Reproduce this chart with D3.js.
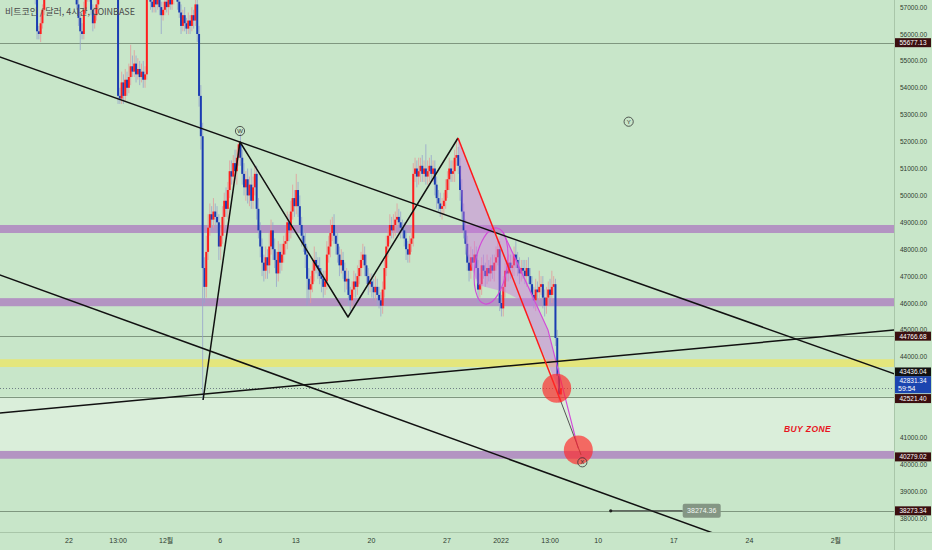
<!DOCTYPE html>
<html><head><meta charset="utf-8">
<script src="https://cdn.jsdelivr.net/npm/d3@7"></script>
<style>
html,body{margin:0;padding:0;background:#c8e6c9;}
svg{display:block;}
</style></head><body>
<svg id="c" width="932" height="550"></svg>
<script>
// ---------------- DATA ----------------
const title = "비트코인 / 달러, 4시간, COINBASE";
const firstCandle = "2021-11-15 13:00";   // 4h candles (KST)
const firstOpen = 65000;
const closes = [
// Nov 15
64800,64200,63900,
// Nov 16
61000,60400,59900,60600,60300,60000,
// Nov 17
60100,59800,60300,59900,60500,60200,
// Nov 18
60600,60100,59700,58600,57900,57300,
// Nov 19
56100,56000,56400,56900,57700,58200,
// Nov 20
58500,58900,59200,59600,59400,59700,
// Nov 21
59800,59400,59100,58900,58600,58400,
// Nov 22
58100,57900,57600,57500,57100,56600,
// Nov 23
56100,56000,56900,57500,57800,57400,
// Nov 24
56900,56400,56700,57100,57600,57900,
// Nov 25
58300,58700,59100,59000,58800,58600,
// Nov 26
58300,57900,57500,53700,53600,54200,
// Nov 27
53700,54300,54000,54400,54800,54600,
// Nov 28
54900,54500,54700,54400,54600,54300,
// Nov 29
54500,57600,57900,57200,57000,57300,
// Nov 30
57100,57400,57000,56700,56900,57200,
// Dec 1
57000,57300,57100,57400,57800,57600,
// Dec 2
57200,56800,56300,56700,56400,56200,
// Dec 3
56500,56300,56700,56500,57100,56000,
// Dec 4
53700,52200,47300,46600,47900,48800,
// Dec 5
49300,49100,49400,49200,49000,48100,
// Dec 6
48500,49200,49800,49500,50200,50900,
// Dec 7
50700,51200,50900,51400,51900,51400,
// Dec 8
50800,50300,50600,50000,50400,49800,
// Dec 9
50300,50800,49500,48700,48100,47500,
// Dec 10
47200,47700,47400,48100,48700,48000,
// Dec 11
47600,47100,47900,47500,47800,48200,
// Dec 12
48300,49000,48700,49400,49900,49600,
// Dec 13
50200,49600,48900,48500,48200,47800,
// Dec 14
46900,46500,46700,47200,47600,47400,
// Dec 15
47300,47000,46900,46600,46800,47800,
// Dec 16
48100,48600,48900,48500,48200,47800,
// Dec 17
47400,47600,47200,46800,46900,46300,
// Dec 18
46100,46500,46800,46600,47000,47300,
// Dec 19
47600,47800,47400,47000,46700,46800,
// Dec 20
46600,46400,46600,46300,46100,45900,
// Dec 21
46500,47300,48100,48500,48900,48700,
// Dec 22
48900,49100,49200,49000,48800,48700,
// Dec 23
48400,48000,47800,48200,48400,50800,
// Dec 24
51000,50700,50900,51100,50800,51000,
// Dec 25
50700,50900,51100,50800,51000,50400,
// Dec 26
49900,49700,49500,49600,49800,50200,
// Dec 27
50600,51000,50800,50900,51400,51500,
// Dec 28
51100,50200,49400,48700,48200,47500,
// Dec 29
47200,47700,47500,47800,47300,46500,
// Dec 30
46700,47400,47200,47000,47300,47100,
// Dec 31
47400,47200,47500,47700,48000,46000,
// Jan 1
45800,46600,47200,47100,47500,47300,
// Jan 2
47400,47800,47600,47300,47100,47300,
// Jan 3
47200,47000,47300,47000,46700,46300,
// Jan 4
46100,46500,46400,46600,46700,46200,
// Jan 5
45900,46200,46500,46300,46600,46700,
// Jan 6
44700,43300,42600,42831.34
];
// upper / lower wick lengths in $100
const wickHi = [
2,2,2, 2,3,2,3,2,2, 2,2,3,2,2,2, 2,2,3,2,2,2, 2,2,3,2,2,3, 2,3,2,2,3,2, 2,2,3,2,2,2,
2,2,2,2,3,2, 2,3,3,2,2,2, 2,2,3,2,2,2, 2,3,2,2,3,2, 2,2,3,2,3,4, 3,4,3,5,8,4, 5,3,4,3,3,4,
3,2,3,2,2,3, 2,3,2,2,3,2, 2,2,2,2,2,2, 2,2,3,2,3,2, 3,2,3,2,3,2, 3,4,5,4,6,5, 4,3,5,3,4,3,
3,4,3,5,3,4, 4,3,5,3,1,4, 3,4,3,4,3,6, 4,3,3,4,3,3, 3,4,3,5,4,3, 4,3,4,3,4,3, 3,4,3,4,5,3,
6,3,4,3,3,4, 3,4,3,4,5,3, 3,4,3,3,4,5, 4,5,3,4,3,4, 3,4,3,3,4,3, 3,3,4,3,4,3, 3,4,3,4,3,3,
3,3,4,3,3,3, 3,3,4,3,4,3, 4,3,5,3,4,3, 3,4,3,3,4,4, 4,3,5,3,4,3, 9,4,3,4,3,3, 3,3,4,3,3,4,
3,4,3,4,3,6, 3,3,4,3,4,3, 3,4,3,5,3,3, 4,3,4,3,5,3, 3,4,3,4,5,3, 3,4,3,4,3,3, 4,3,5,3,4,3,
3,4,3,4,3,3, 3,4,3,6,3,3, 3,4,3,4,6,3, 2,3,3,3
];
const wickLo = [
2,3,2, 3,2,3,2,3,2, 2,2,2,2,2,2, 2,3,2,3,3,2, 3,2,3,2,2,2, 2,2,2,2,2,2, 2,2,2,2,2,2,
2,2,2,2,2,3, 7,2,2,2,3,2, 2,3,2,2,2,2, 2,2,2,2,2,2, 2,2,2,3,2,2, 3,2,3,2,3,2, 2,3,2,3,2,3,
3,2,3,3,2,2, 3,2,3,7,2,2, 2,3,2,2,3,2, 3,2,3,2,3,2, 2,3,2,3,2,3, 4,5,49,6,4,3, 3,4,3,3,4,5,
5,3,4,3,4,3, 3,4,3,5,3,3, 4,3,5,3,4,3, 3,3,4,3,4,5, 4,3,5,3,3,4, 3,5,3,4,3,3, 4,3,4,3,3,4,
3,4,3,4,3,5, 10,4,5,3,4,3, 4,3,5,4,3,3, 3,4,3,3,4,3, 4,3,3,4,3,4, 4,3,3,4,3,3, 3,3,4,3,4,3,
4,3,3,4,3,4, 3,3,3,4,3,3, 3,4,3,3,4,3, 3,4,3,3,3,3, 3,4,3,4,3,3, 3,3,4,3,3,4, 4,3,3,4,3,3,
3,4,3,3,4,3, 3,4,3,3,4,3, 4,3,3,3,4,5, 3,4,3,4,3,3, 3,3,4,3,3,3, 3,3,4,3,3,4, 3,4,3,3,4,3,
3,3,4,3,3,4, 3,4,3,3,3,4, 4,3,3,3,3,3, 3,3,3,2
];

const xDomain = ["2021-11-22 00:00", "2022-02-01 00:00"];
const yDomain = [38000, 57000];
const priceTicks = [57000,56000,55000,54000,53000,52000,51000,50000,49000,48000,47000,46000,45000,44000,41000,40000,39000,38000];
const timeTicks = [
  ["2021-11-22 00:00","22"],["2021-11-26 13:00","13:00"],["2021-12-01 00:00","12월"],
  ["2021-12-06 00:00","6"],["2021-12-13 00:00","13"],["2021-12-20 00:00","20"],
  ["2021-12-27 00:00","27"],["2022-01-01 00:00","2022"],["2022-01-05 13:00","13:00"],
  ["2022-01-10 00:00","10"],["2022-01-17 00:00","17"],["2022-01-24 00:00","24"],["2022-02-01 00:00","2월"]
];

// horizontal levels and zones
const levelLines = [55677.13, 44766.68, 42521.40, 38273.34];
const lastPrice = 42831.34;
const countdown = "59:54";
const purpleBands = [[48602, 48900], [45880, 46180], [40210, 40500]];
const yellowBand = [43620, 43910];
const buyZone = [40500, 42521.40];
const tagValues = [55677.13, 44766.68, 43436.04, 42521.40, 40279.02, 38273.34];

// drawings (time, price)
const trendLines = [
  [["2021-11-16 00:00", 55089], ["2022-01-05 00:00", 47978]],
  [["2021-11-16 00:00", 46985], ["2022-01-10 00:00", 38993]],
  [["2021-11-16 00:00", 41926], ["2022-01-24 00:00", 44494]]
];
const zigzag = [["2021-12-04 10:00", 42394], ["2021-12-07 20:00", 51985], ["2021-12-17 20:00", 45480], ["2021-12-28 00:30", 52134]];
const redLeg = [["2021-12-28 00:30", 52134], ["2022-01-06 13:30", 42320]];
const darkLeg = [["2022-01-06 13:30", 42320], ["2022-01-08 10:00", 40349]];
const pinkArea = [
  ["2021-12-28 00:30", 52134], ["2021-12-31 17:20", 48342], ["2022-01-01 02:10", 48714],
  ["2022-01-02 22:35", 47227], ["2022-01-05 08:25", 44996], ["2022-01-06 02:10", 43769],
  ["2022-01-06 11:00", 42691], ["2022-01-03 23:00", 44996], ["2022-01-02 18:10", 46112],
  ["2022-01-01 08:50", 46409], ["2021-12-29 20:50", 46669], ["2021-12-28 20:25", 47784],
  ["2021-12-28 09:25", 49457]
];
const magentaPath = [["2022-01-01 04:30", 48639], ["2022-01-05 08:25", 44996], ["2022-01-08 03:10", 40610]];
const ellipseAxis = [["2021-12-31 15:10", 48788], ["2021-12-30 12:30", 45963]];
const targetCircles = [["2022-01-06 03:50", 42829], ["2022-01-08 03:50", 40535]];
const waveLabels = [["2021-12-07 20:00", 52394, "W"], ["2022-01-12 19:40", 52740, "Y"], ["2022-01-08 12:45", 40078, "X"]];
const buyZoneText = ["2022-01-29 09:10", 41305, "BUY ZONE"];
const priceNote = [["2022-01-11 03:50", 38274.36], ["2022-01-19 14:00", 38274.36], "38274.36"];

// ---------------- DRAW ----------------
const W = 932, H = 550, plotR = 894, plotB = 532;
const T = s => new Date(s.replace(" ", "T") + "Z");
const svg = d3.select("#c");
const x = d3.scaleUtc().domain(xDomain.map(T)).range([69, 835.8]);
const y = d3.scaleLinear().domain(yDomain).range([518.2, 7.1]);
const P = d => [x(T(d[0])), y(d[1])];

svg.append("rect").attr("width", W).attr("height", H).attr("fill", "#c8e6c9");
svg.append("clipPath").attr("id", "clip").append("rect").attr("width", plotR).attr("height", plotB);
const g = svg.append("g").attr("clip-path", "url(#clip)");

// zones
g.append("rect").attr("x", 0).attr("width", plotR)
  .attr("y", y(buyZone[1])).attr("height", y(buyZone[0]) - y(buyZone[1])).attr("fill", "#daeeda");
g.selectAll(".band").data(purpleBands).join("rect")
  .attr("x", 0).attr("width", plotR).attr("y", d => y(d[1])).attr("height", d => y(d[0]) - y(d[1]))
  .attr("fill", "#b394c2");
g.append("rect").attr("x", 0).attr("width", plotR)
  .attr("y", y(yellowBand[1])).attr("height", y(yellowBand[0]) - y(yellowBand[1])).attr("fill", "#e4e67c");

// level lines
g.selectAll(".lvl").data(levelLines).join("line")
  .attr("x1", 0).attr("x2", plotR).attr("y1", d => Math.round(y(d)) + 0.5).attr("y2", d => Math.round(y(d)) + 0.5)
  .attr("stroke", "#7f977f").attr("stroke-width", 1);
g.append("line").attr("x1", 0).attr("x2", plotR)
  .attr("y1", Math.round(y(lastPrice)) + 0.5).attr("y2", Math.round(y(lastPrice)) + 0.5)
  .attr("stroke", "#6f7f85").attr("stroke-width", 1).attr("stroke-dasharray", "1,2");

// candles
const t0 = T(firstCandle).getTime();
const candles = closes.map((c, i) => {
  const o = i ? closes[i - 1] : firstOpen;
  return { t: new Date(t0 + i * 4 * 3600e3), o, c,
    h: Math.max(o, c) + (wickHi[i] ?? 2) * 100, l: Math.min(o, c) - (wickLo[i] ?? 2) * 100 };
});
const cg = g.append("g");
cg.selectAll(".wick").data(candles).join("line")
  .attr("x1", d => x(d.t)).attr("x2", d => x(d.t)).attr("y1", d => y(d.h)).attr("y2", d => y(d.l))
  .attr("stroke", d => d.c >= d.o ? "#e39a9a" : "#95a3cc").attr("stroke-width", 0.8);
cg.selectAll(".body").data(candles).join("rect")
  .attr("x", d => x(d.t) - 1).attr("width", 2)
  .attr("y", d => y(Math.max(d.o, d.c)))
  .attr("height", d => Math.max(1.2, Math.abs(y(d.o) - y(d.c))))
  .attr("fill", d => d.c >= d.o ? "#ff1e1e" : "#1b3cb2");

// pink area + ellipse + magenta path
g.append("path").attr("d", d3.line()(pinkArea.map(P)) + "Z")
  .attr("fill", "#cf72e0").attr("fill-opacity", 0.45).attr("stroke", "none");
{
  const a = P(ellipseAxis[0]), b = P(ellipseAxis[1]);
  const cx = (a[0] + b[0]) / 2, cy = (a[1] + b[1]) / 2;
  const ry = Math.hypot(a[0] - b[0], a[1] - b[1]) / 2;
  const ang = Math.atan2(a[0] - b[0], b[1] - a[1]) * 180 / Math.PI;
  g.append("ellipse").attr("cx", cx).attr("cy", cy).attr("rx", 16).attr("ry", ry)
    .attr("transform", `rotate(${ang},${cx},${cy})`)
    .attr("fill", "none").attr("stroke", "#d24ad8").attr("stroke-width", 1.1);
}
g.append("path").attr("d", d3.line()(magentaPath.map(P)))
  .attr("fill", "none").attr("stroke", "#d24ad8").attr("stroke-width", 1.1);

// extended trend lines
trendLines.forEach(([p1, p2]) => {
  const a = P(p1), b = P(p2), s = (b[1] - a[1]) / (b[0] - a[0]);
  g.append("line").attr("x1", -5).attr("y1", a[1] + (-5 - a[0]) * s)
    .attr("x2", plotR + 5).attr("y2", a[1] + (plotR + 5 - a[0]) * s)
    .attr("stroke", "#111").attr("stroke-width", 1.5);
});
g.append("path").attr("d", d3.line()(zigzag.map(P)))
  .attr("fill", "none").attr("stroke", "#111").attr("stroke-width", 1.5).attr("stroke-linejoin", "round");
g.append("path").attr("d", d3.line()(darkLeg.map(P)))
  .attr("fill", "none").attr("stroke", "#555").attr("stroke-width", 1);
g.append("path").attr("d", d3.line()(redLeg.map(P)))
  .attr("fill", "none").attr("stroke", "#ff1a1a").attr("stroke-width", 1.5);

// target circles
g.selectAll(".tc").data(targetCircles).join("circle")
  .attr("cx", d => P(d)[0]).attr("cy", d => P(d)[1]).attr("r", 14.5)
  .attr("fill", "#ff2a2a").attr("fill-opacity", 0.68);

// wave labels
waveLabels.forEach(d => {
  const [px, py] = P(d);
  g.append("circle").attr("cx", px).attr("cy", py).attr("r", 4.6)
    .attr("fill", "none").attr("stroke", "#333").attr("stroke-width", 0.8);
  g.append("text").attr("x", px).attr("y", py + 2.1).attr("text-anchor", "middle")
    .attr("font-family", "Liberation Sans, Arial, sans-serif").attr("font-size", 6).attr("fill", "#333").text(d[2]);
});

// BUY ZONE
{
  const [px, py] = P(buyZoneText);
  g.append("text").attr("x", px).attr("y", py + 3).attr("text-anchor", "middle")
    .attr("font-family", "Liberation Sans, Arial, sans-serif").attr("font-size", 8.5)
    .attr("font-weight", "bold").attr("font-style", "italic").attr("fill", "#e8141e")
    .attr("letter-spacing", 0.4).text(buyZoneText[2]);
}

// price note
{
  const a = P(priceNote[0]), b = P(priceNote[1]);
  g.append("line").attr("x1", a[0]).attr("y1", a[1]).attr("x2", b[0] - 19).attr("y2", b[1])
    .attr("stroke", "#333").attr("stroke-width", 1);
  g.append("circle").attr("cx", a[0]).attr("cy", a[1]).attr("r", 1.6).attr("fill", "#222");
  g.append("rect").attr("x", b[0] - 19).attr("y", b[1] - 7).attr("width", 38).attr("height", 14)
    .attr("rx", 2).attr("fill", "#849684");
  g.append("text").attr("x", b[0]).attr("y", b[1] + 2.5).attr("text-anchor", "middle")
    .attr("font-family", "Liberation Sans, Arial, sans-serif").attr("font-size", 7)
    .attr("fill", "#f2f6f2").text(priceNote[2]);
}

// title
svg.append("text").attr("x", 5).attr("y", 15)
  .attr("font-family", "Noto Sans CJK KR, DejaVu Sans Mono, sans-serif").attr("font-size", 9)
  .attr("fill", "#4a4a4a").attr("textLength", 130).attr("lengthAdjust", "spacing").text(title);

// axes frame
svg.append("line").attr("x1", plotR + 0.5).attr("x2", plotR + 0.5).attr("y1", 0).attr("y2", H)
  .attr("stroke", "#a9c6a9").attr("stroke-width", 1);
svg.append("line").attr("x1", 0).attr("x2", W).attr("y1", plotB + 0.5).attr("y2", plotB + 0.5)
  .attr("stroke", "#a9c6a9").attr("stroke-width", 1);

// price axis labels
svg.selectAll(".pt").data(priceTicks).join("text")
  .attr("x", 900).attr("y", d => y(d) + 2.5)
  .attr("font-family", "Liberation Sans, Arial, sans-serif").attr("font-size", 7)
  .attr("textLength", 27).attr("lengthAdjust", "spacingAndGlyphs")
  .attr("fill", "#2e3a2e").text(d => d3.format(".2f")(d));

// time axis labels
svg.selectAll(".tt").data(timeTicks).join("text")
  .attr("x", d => x(T(d[0]))).attr("y", 543).attr("text-anchor", "middle")
  .attr("font-family", "Liberation Sans, Noto Sans CJK KR, sans-serif").attr("font-size", 7)
  .attr("fill", "#2e3a2e").text(d => d[1]);

// price tags
const tagColor = v => v === 43436.04 ? "#111" : "#3b0f10";
const tagShift = v => v === 42521.40 ? 2 : 0;
tagValues.forEach(v => {
  const cy = y(v) + tagShift(v);
  svg.append("rect").attr("x", plotR + 1).attr("y", cy - 4.5).attr("width", 36).attr("height", 9).attr("fill", tagColor(v));
  svg.append("text").attr("x", plotR + 19).attr("y", cy + 2.5).attr("text-anchor", "middle")
    .attr("font-family", "Liberation Sans, Arial, sans-serif").attr("font-size", 7)
    .attr("textLength", 27).attr("lengthAdjust", "spacingAndGlyphs").attr("fill", "#fff").text(d3.format(".2f")(v));
});
{
  const cy = y(lastPrice);
  svg.append("rect").attr("x", plotR + 1).attr("y", cy - 12).attr("width", 36).attr("height", 17).attr("fill", "#1c45b0");
  svg.append("text").attr("x", plotR + 19).attr("y", cy - 5.5).attr("text-anchor", "middle")
    .attr("font-family", "Liberation Sans, Arial, sans-serif").attr("font-size", 7)
    .attr("textLength", 27).attr("lengthAdjust", "spacingAndGlyphs").attr("fill", "#fff").text(d3.format(".2f")(lastPrice));
  svg.append("text").attr("x", plotR + 4).attr("y", cy + 2.8)
    .attr("font-family", "Liberation Sans, Arial, sans-serif").attr("font-size", 7).attr("fill", "#fff").text(countdown);
}
</script></body></html>
